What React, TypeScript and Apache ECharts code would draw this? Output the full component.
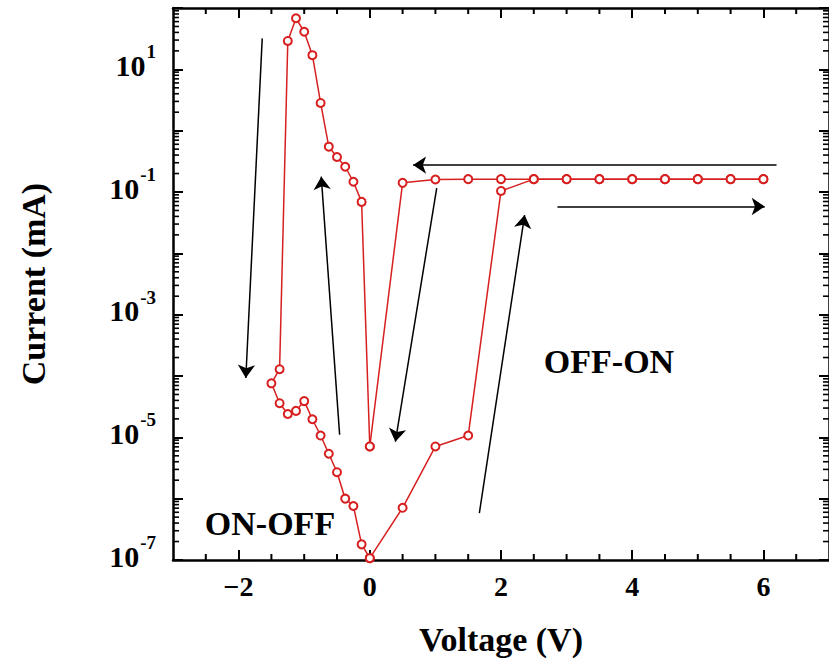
import React, { useEffect, useRef } from "react";
import * as echarts from "echarts";

// ---- data ----
const V_SET = [0, 0.5, 1.0, 1.5, 2.0, 2.5, 3.0, 3.5, 4.0, 4.5, 5.0, 5.5, 6.0];
const I_SET = [1.07e-7, 7.1e-7, 7.1e-6, 1.07e-5, 0.104, 0.162, 0.162, 0.162, 0.162, 0.162, 0.162, 0.162, 0.162];

const V_RETURN = [6.0, 5.5, 5.0, 4.5, 4.0, 3.5, 3.0, 2.5, 2.0, 1.5, 1.0, 0.5, 0];
const I_RETURN = [0.162, 0.162, 0.162, 0.162, 0.162, 0.162, 0.162, 0.162, 0.162, 0.162, 0.16, 0.141, 7.1e-6];

const V_RESET = [0, -0.125, -0.25, -0.375, -0.5, -0.625, -0.75, -0.875, -1.0, -1.125, -1.25, -1.375, -1.5,
  -1.375, -1.25, -1.125, -1.0, -0.875, -0.75, -0.625, -0.5, -0.375, -0.25, -0.125, 0];
const I_RESET = [7.1e-6, 0.069, 0.147, 0.258, 0.372, 0.548, 2.83, 17, 41, 68, 29, 1.29e-4, 7.6e-5,
  3.6e-5, 2.4e-5, 2.7e-5, 3.9e-5, 1.97e-5, 1.07e-5, 5.4e-6, 2.7e-6, 1.0e-6, 7.6e-7, 1.8e-7, 1.07e-7];

// sweep-direction arrows (data coordinates)
const ARROW_FROM_V = [-1.64, -0.46, 1.02, 1.67, 6.2, 2.86];
const ARROW_FROM_I = [32, 1.1e-5, 0.116, 5.8e-7, 0.275, 0.058];
const ARROW_TO_V = [-1.89, -0.74, 0.39, 2.36, 0.66, 6.02];
const ARROW_TO_I = [9.3e-5, 0.178, 8.5e-6, 0.042, 0.275, 0.058];

// axis ticks
const X_MAJOR = [-2, 0, 2, 4, 6];
const X_MINOR = [-2.5, -1.5, -1, -0.5, 0.5, 1, 1.5, 2.5, 3, 3.5, 4.5, 5, 5.5, 6.5];
const Y_DECADES = [-7, -6, -5, -4, -3, -2, -1, 0, 1, 2];
const Y_LABEL_EXP = [-7, -5, -3, -1, 1];
const Y_MINOR_MULT = [2, 3, 4, 5, 6, 7, 8, 9];

const FONT = '"Liberation Serif", "Times New Roman", serif';
const RED = "#d71f1f";

export default function App() {
  const ref = useRef<HTMLDivElement>(null);

  useEffect(() => {
    if (!ref.current) return;
    const chart = echarts.init(ref.current, undefined, { renderer: "svg" });

    const yMajor = Y_DECADES.map((e) => Math.pow(10, e));
    const yLabels = Y_LABEL_EXP.map((e) => Math.pow(10, e));
    const yMinor: number[][] = [];
    Y_DECADES.slice(0, -1).forEach((e) => {
      Y_MINOR_MULT.forEach((m) => yMinor.push([0, m * Math.pow(10, e)]));
    });

    const toPairs = (xs: number[], ys: number[]) => xs.map((x, i) => [x, ys[i]]);

    const redSeries = (name: string, xs: number[], ys: number[]) => ({
      name,
      type: "line",
      data: toPairs(xs, ys),
      symbol: "emptyCircle",
      symbolSize: 8,
      lineStyle: { color: RED, width: 1.5 },
      itemStyle: { color: RED, borderColor: RED, borderWidth: 1.6 },
      z: 5,
    });

    const xAxisCommon = {
      type: "value",
      min: -3,
      max: 7,
      splitLine: { show: false },
      axisLine: { show: true, onZero: false, lineStyle: { color: "#000", width: 2.5 } },
      axisTick: { show: true, inside: true, length: 10, customValues: X_MAJOR, lineStyle: { color: "#000", width: 2 } },
    };
    const yAxisCommon = {
      type: "log",
      logBase: 10,
      min: 1e-7,
      max: 1e2,
      splitLine: { show: false },
      axisLine: { show: true, onZero: false, lineStyle: { color: "#000", width: 2.5 } },
      axisTick: { show: true, inside: true, length: 10, customValues: yMajor, lineStyle: { color: "#000", width: 2 } },
    };

    chart.setOption({
      animation: false,
      backgroundColor: "#fff",
      grid: { left: 173, top: 8, width: 656, height: 552, containLabel: false, outerBoundsMode: "none" },
      xAxis: [
        {
          ...xAxisCommon,
          position: "bottom",
          name: "Voltage (V)",
          nameLocation: "middle",
          nameGap: 62,
          nameTextStyle: { fontFamily: FONT, fontWeight: "bold", fontSize: 34, color: "#000" },
          axisLabel: {
            customValues: X_MAJOR,
            margin: 12,
            fontFamily: FONT,
            fontWeight: "bold",
            fontSize: 28,
            color: "#000",
            formatter: (v: number) => String(v).replace("-", "\u2212"),
          },
        },
        { ...xAxisCommon, position: "top", axisLabel: { show: false } },
      ],
      yAxis: [
        {
          ...yAxisCommon,
          position: "left",
          name: "Current (mA)",
          nameLocation: "middle",
          nameGap: 123,
          nameTextStyle: { fontFamily: FONT, fontWeight: "bold", fontSize: 34, color: "#000" },
          axisLabel: {
            customValues: yLabels,
            margin: 17,
            padding: [0, 0, 16, 0],
            color: "#000",
            formatter: (v: number) => `{b|10}{s|${Math.round(Math.log10(v))}}`,
            rich: {
              b: { fontFamily: FONT, fontWeight: "bold", fontSize: 30, lineHeight: 38, verticalAlign: "bottom", color: "#000" },
              s: { fontFamily: FONT, fontWeight: "bold", fontSize: 19, lineHeight: 20, verticalAlign: "top", color: "#000", padding: [0, 0, 0, 1] },
            },
          },
        },
        { ...yAxisCommon, position: "right", axisLabel: { show: false } },
      ],
      series: [
        redSeries("OFF-ON", V_SET, I_SET),
        redSeries("return", V_RETURN, I_RETURN),
        redSeries("ON-OFF", V_RESET, I_RESET),
        {
          type: "lines",
          coordinateSystem: "cartesian2d",
          xAxisIndex: 0,
          yAxisIndex: 0,
          symbol: ["none", "arrow"],
          symbolSize: 13,
          lineStyle: { color: "#000", width: 1.5, opacity: 1 },
          data: ARROW_FROM_V.map((v, i) => ({
            coords: [
              [v, ARROW_FROM_I[i]],
              [ARROW_TO_V[i], ARROW_TO_I[i]],
            ],
          })),
          z: 4,
        },
        {
          type: "custom",
          silent: true,
          data: yMinor,
          renderItem: (params: any, api: any) => {
            const cs = params.coordSys;
            const y = api.coord([0, api.value(1)])[1];
            return {
              type: "group",
              children: [
                { type: "line", shape: { x1: cs.x, y1: y, x2: cs.x + 6, y2: y }, style: { stroke: "#000", lineWidth: 1.6 } },
                { type: "line", shape: { x1: cs.x + cs.width, y1: y, x2: cs.x + cs.width - 6, y2: y }, style: { stroke: "#000", lineWidth: 1.6 } },
              ],
            };
          },
          z: 3,
        },
        {
          type: "custom",
          silent: true,
          data: X_MINOR.map((v) => [v, 1]),
          renderItem: (params: any, api: any) => {
            const cs = params.coordSys;
            const x = api.coord([api.value(0), 1])[0];
            return {
              type: "group",
              children: [
                { type: "line", shape: { x1: x, y1: cs.y + cs.height, x2: x, y2: cs.y + cs.height - 6 }, style: { stroke: "#000", lineWidth: 2 } },
                { type: "line", shape: { x1: x, y1: cs.y, x2: x, y2: cs.y + 6 }, style: { stroke: "#000", lineWidth: 2 } },
              ],
            };
          },
          z: 3,
        },
      ],
      graphic: [
        {
          type: "text",
          x: 609,
          y: 361,
          style: { text: "OFF-ON", fontFamily: FONT, fontWeight: "bold", fontSize: 34, fill: "#000", textAlign: "center", textVerticalAlign: "middle" },
        },
        {
          type: "text",
          x: 270,
          y: 523,
          style: { text: "ON-OFF", fontFamily: FONT, fontWeight: "bold", fontSize: 34, fill: "#000", textAlign: "center", textVerticalAlign: "middle" },
        },
      ],
    });

    return () => chart.dispose();
  }, []);

  return <div ref={ref} style={{ position: "absolute", left: 0, top: 0, width: 829, height: 667 }} />;
}
